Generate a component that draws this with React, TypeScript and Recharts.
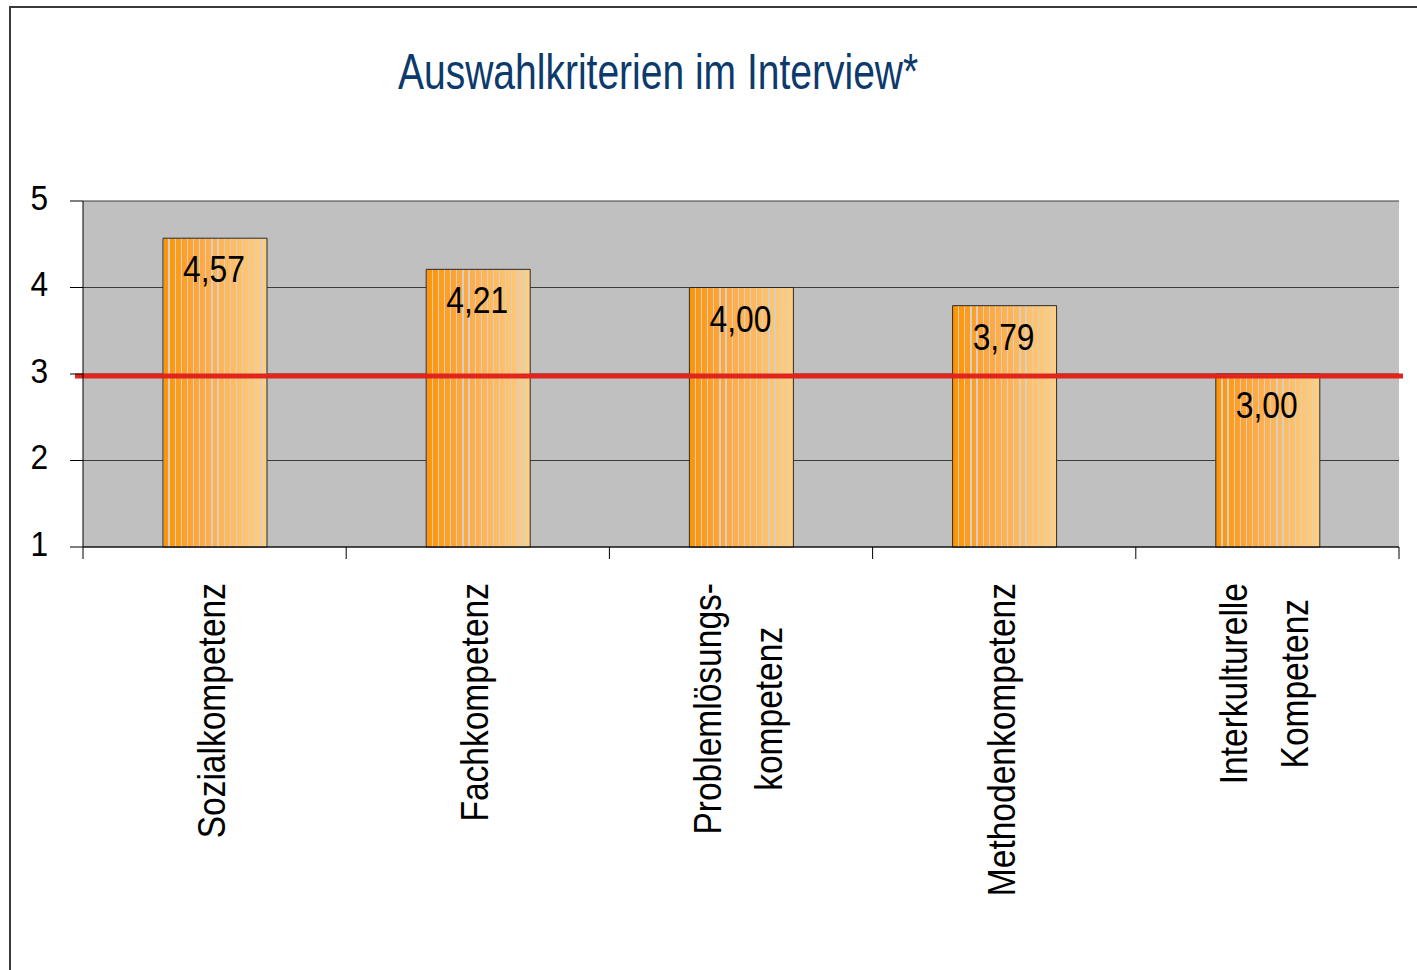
import React from "react";
import {
  BarChart,
  Bar,
  XAxis,
  YAxis,
  CartesianGrid,
  ReferenceLine,
  LabelList,
} from "recharts";

const CATEGORIES = [
  "Sozialkompetenz",
  "Fachkompetenz",
  "Problemlösungskompetenz",
  "Methodenkompetenz",
  "Interkulturelle Kompetenz",
];
const CATEGORY_LINES = [
  ["Sozialkompetenz"],
  ["Fachkompetenz"],
  ["Problemlösungs-", "kompetenz"],
  ["Methodenkompetenz"],
  ["Interkulturelle", "Kompetenz"],
];
const VALUES = [4.57, 4.21, 4.0, 3.79, 3.0];
const Y_TICKS = [1, 2, 3, 4, 5];
const REFERENCE_VALUE = 3;
const TITLE = "Auswahlkriterien im Interview*";

const FONT = "'Liberation Sans', Arial, sans-serif";
const W = 1417;
const H = 970;
const PLOT_LEFT = 83;
const PLOT_RIGHT = 1399;
const PLOT_TOP = 201;
const PLOT_BOTTOM = 547;
const NARROW = 0.86; // narrow font look

const data = CATEGORIES.map((name, i) => ({ name, value: VALUES[i] }));

// measure text so multi-line rotated labels can be centred against each other
let ctx: CanvasRenderingContext2D | null = null;
function textWidth(s: string, size: number) {
  if (!ctx) ctx = document.createElement("canvas").getContext("2d");
  if (!ctx) return s.length * size * 0.5;
  ctx.font = `${size}px ${FONT}`;
  return ctx.measureText(s).width;
}

function mix(a: number[], b: number[], t: number) {
  return `rgb(${a.map((v, i) => Math.round(v + (b[i] - v) * t)).join(",")})`;
}

// orange gradient with thin light stripes
function stripeStops() {
  const dark = [255, 148, 0];
  const mid = [255, 168, 64];
  const light = [255, 208, 130];
  const colorAt = (t: number) =>
    t < 0.35 ? mix(dark, mid, t / 0.35) : mix(mid, light, (t - 0.35) / 0.65);
  const stops: JSX.Element[] = [];
  const n = 17;
  const w = 0.006;
  let k = 0;
  for (let i = 0; i <= n; i++) {
    const t = i / n;
    const c = colorAt(t);
    const a = Math.max(0, t - w);
    const b = Math.min(1, t + w);
    if (i > 0) {
      stops.push(<stop key={k++} offset={a} stopColor={colorAt(a)} />);
      stops.push(<stop key={k++} offset={a} stopColor="#d4cfc8" />);
    }
    if (i < n) {
      stops.push(<stop key={k++} offset={b} stopColor="#d4cfc8" />);
      stops.push(<stop key={k++} offset={b} stopColor={c} />);
    }
  }
  return stops;
}

const LABEL_SIZE = 39;
const LINE_GAP = 61;

function XTick(props: any) {
  const { x, y, payload, index } = props;
  const lines = CATEGORY_LINES[index] || [String(payload.value)];
  const band = (PLOT_RIGHT - PLOT_LEFT) / CATEGORIES.length;
  const maxW = Math.max(...lines.map((l) => textWidth(l, LABEL_SIZE))) * NARROW;
  const startGap = 36;
  return (
    <g>
      <line x1={x - band / 2} x2={x - band / 2} y1={y} y2={y + 12} stroke="#000" strokeWidth={1} />
      {index === CATEGORIES.length - 1 && (
        <line x1={x + band / 2} x2={x + band / 2} y1={y} y2={y + 12} stroke="#000" strokeWidth={1} />
      )}
      <g transform={`translate(${x},${y}) rotate(-90)`}>
        {lines.map((l, i) => (
          <text
            key={i}
            transform={`translate(${-(startGap + maxW / 2)},${(i - (lines.length - 1) / 2) * LINE_GAP - 3}) scale(${NARROW},1)`}
            textAnchor="middle"
            dominantBaseline="central"
            fontFamily={FONT}
            fontSize={LABEL_SIZE}
            fill="#000"
          >
            {l}
          </text>
        ))}
      </g>
    </g>
  );
}

function YTick(props: any) {
  const { x, y, payload } = props;
  return (
    <text
      transform={`translate(${x},${y - 4}) scale(0.88,1)`}
      textAnchor="end"
      dominantBaseline="central"
      fontFamily={FONT}
      fontSize={36}
      fill="#000"
    >
      {payload.value}
    </text>
  );
}

const fmt = (v: any) => Number(v).toFixed(2).replace(".", ",");

function ValueLabel(props: any) {
  const { x, y, width, value } = props;
  const cx = Number(x) + Number(width) / 2;
  return (
    <text
      transform={`translate(${cx - 1},${Number(y) + 44}) scale(0.86,1)`}
      textAnchor="middle"
      fontFamily={FONT}
      fontSize={37}
      fill="#000"
    >
      {fmt(value)}
    </text>
  );
}

export default function App() {
  return (
    <div
      style={{
        position: "absolute",
        left: 0,
        top: 0,
        width: W,
        height: H,
        background: "#fff",
        overflow: "hidden",
      }}
    >
      <div
        style={{
          position: "absolute",
          left: 9,
          top: 6,
          width: W,
          height: H,
          borderTop: "2px solid #3a3a3a",
          borderLeft: "2px solid #3a3a3a",
        }}
      />
      <div
        style={{
          position: "absolute",
          left: 398,
          top: 44,
          fontFamily: FONT,
          fontSize: 50,
          color: "#0d3a6c",
          whiteSpace: "nowrap",
          lineHeight: "56px",
          transform: "scaleX(0.78)",
          transformOrigin: "left top",
        }}
      >
        {TITLE}
      </div>
      <div style={{ position: "absolute", left: 0, top: 0 }}>
        <BarChart
          width={W}
          height={H}
          data={data}
          margin={{ top: PLOT_TOP, right: W - PLOT_RIGHT, bottom: 0, left: 0 }}
          barCategoryGap={0}
        >
          <defs>
            <linearGradient id="barGrad" x1="0" y1="0" x2="1" y2="0">
              {stripeStops()}
            </linearGradient>
          </defs>
          <CartesianGrid
            vertical={false}
            fill="#c0c0c0"
            fillOpacity={1}
            stroke="#3c3c3c"
            strokeWidth={1}
          />
          <XAxis
            dataKey="name"
            height={H - PLOT_BOTTOM}
            interval={0}
            tickLine={false}
            tickSize={0}
            tickMargin={0}
            axisLine={{ stroke: "#000", strokeWidth: 1 }}
            tick={<XTick />}
          />
          <YAxis
            width={PLOT_LEFT}
            domain={[1, 5]}
            ticks={Y_TICKS}
            interval={0}
            tickSize={13}
            tickMargin={22}
            axisLine={{ stroke: "#000", strokeWidth: 1 }}
            tickLine={{ stroke: "#000", strokeWidth: 1 }}
            tick={<YTick />}
          />
          <Bar
            dataKey="value"
            barSize={104}
            fill="url(#barGrad)"
            stroke="#2a2a2a"
            strokeWidth={1}
            isAnimationActive={false}
          >
            <LabelList dataKey="value" content={<ValueLabel />} />
          </Bar>
          <ReferenceLine
            y={REFERENCE_VALUE}
            ifOverflow="visible"
            shape={(p: any) => (
              <line
                x1={p.x1 - 8}
                x2={p.x2 + 4}
                y1={p.y1 + 2}
                y2={p.y2 + 2}
                stroke="#e0261c"
                strokeWidth={5}
              />
            )}
          />
        </BarChart>
      </div>
    </div>
  );
}
